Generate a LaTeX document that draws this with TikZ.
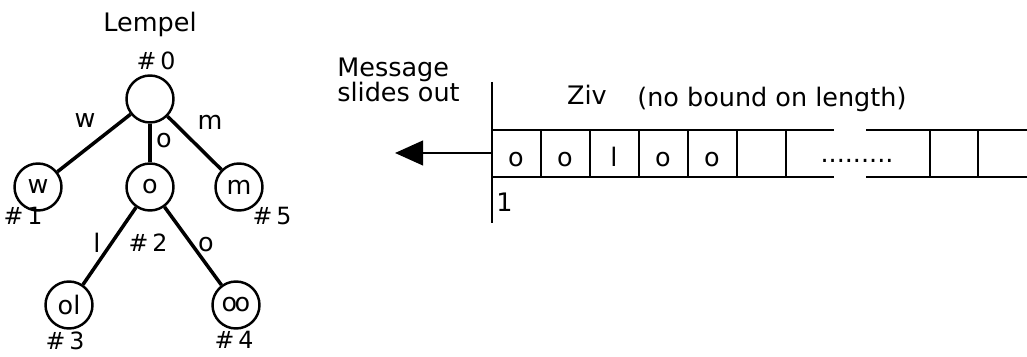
\documentclass[tikz,border=0pt]{standalone}
\usepackage{fontspec}
\setmainfont{DejaVu Sans}
\usetikzlibrary{arrows.meta, positioning}

\begin{document}
\begin{tikzpicture}[x=0.02cm,y=-0.02cm,
    trie/.style={circle,draw,line width=1.4pt,minimum size=0.94cm,inner sep=0pt,font=\fontsize{14.5}{16}\selectfont},
    branch/.style={line width=2pt},
    txt/.style={anchor=base,inner sep=0pt,font=\fontsize{14.5}{16}\selectfont},
    idx/.style={anchor=base,inner sep=0pt,font=\fontsize{13.5}{15}\selectfont},
    rail/.style={line width=1.4pt}]
  \useasboundingbox (0,0) rectangle (1027,357);

  % Lempel trie
  \node[txt] (lempel) at (150,32) {Lempel};
  \node[trie] (n0) at (150,99) {};
  \node[trie] (n1) at (38,187) {w};
  \node[trie] (n2) at (150,187) {o};
  \node[trie] (n5) at (239,187) {m};
  \node[trie] (n3) at (69,305) {ol};
  \node[trie] (n4) at (236,305) {o\kern-1.5pt o};

  \path[branch] (n0) edge (n1)
                (n0) edge (n2)
                (n0) edge (n5)
                (n2) edge (n3)
                (n2) edge (n4);

  \node[txt] (ew) at (85,128) {w};
  \node[txt] (eo) at (164,148) {o};
  \node[txt] (em) at (210,130) {m};
  \node[txt] (el) at (97,253) {l};
  \node[txt] (eoo) at (206,252) {o};

  \node[idx] (i0) at (156,70) {\#\,0};
  \node[idx] (i1) at (23,225) {\#\,1};
  \node[idx] (i2) at (148,252) {\#\,2};
  \node[idx] (i3) at (65,350) {\#\,3};
  \node[idx] (i4) at (234,349) {\#\,4};
  \node[idx] (i5) at (272,225) {\#\,5};

  % Ziv window
  \coordinate (top) at (492,82);
  \coordinate (bot) at (492,223);
  \coordinate (out) at (395,153);
  \draw[rail] (top) -- (bot);
  \draw[line width=1.5pt,-{Triangle[length=16pt,width=14pt]}] (492,153) -- (out);

  \node[txt,anchor=base west,align=left,font=\fontsize{14.5}{14.7}\selectfont] (msg) at (337,102) {Message\\slides out};
  \node[txt] (ziv) at (587,105) {Ziv};
  \node[txt,anchor=base west] (bound) at (637,107) {(no bound on length)};
  \node[txt,anchor=base west] (first) at (496,212) {1};

  \draw[rail] (492,130) -- (834,130) (492,177) -- (834,177);
  \draw[rail] (866,130) -- (1027,130) (866,177) -- (1027,177);
  \foreach \x in {541,590,639,688,737,786,930,978}
    \draw[rail] (\x,130) -- (\x,177);

  \node[txt] (c1) at (516,167) {o};
  \node[txt] (c2) at (565,167) {o};
  \node[txt] (c3) at (614,167) {l};
  \node[txt] (c4) at (663,167) {o};
  \node[txt] (c5) at (712,167) {o};
  \node[txt] (dots) at (857,163) {.........};
\end{tikzpicture}
\end{document}
